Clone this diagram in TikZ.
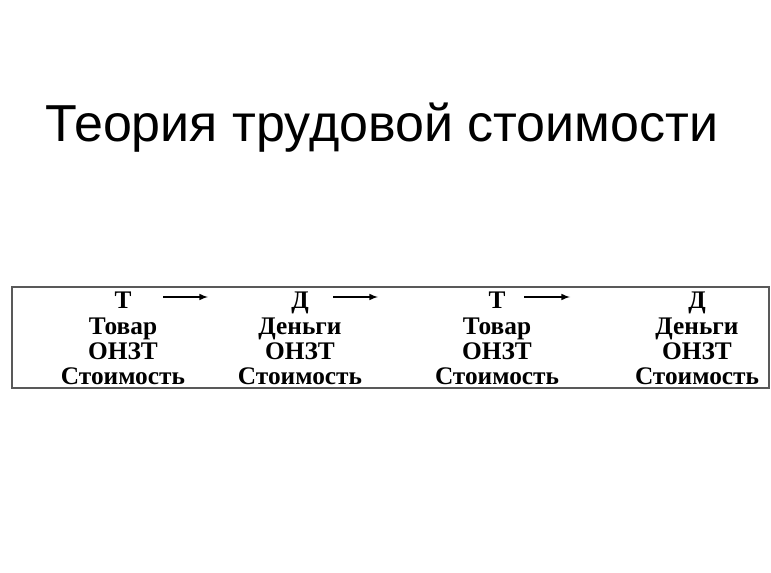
\documentclass[tikz,border=0pt]{standalone}
\usepackage{fontspec}
\setmainfont{Liberation Serif}
\newfontfamily\titlefont{Liberation Sans}
\begin{document}
\begin{tikzpicture}[x=0.75pt,y=-0.75pt,
  cell/.style={font=\fontsize{19}{21}\selectfont\bfseries, inner sep=0pt, anchor=base},
  arr/.style={-latex, line width=1.2pt}]
\useasboundingbox (0,0) rectangle (771,573);
\node[font=\titlefont\fontsize{39}{44}\selectfont, anchor=base west, inner sep=0pt] (title) at (45,142) {Теория трудовой стоимости};
\draw[line width=1pt, gray!70!black] (12,287) rectangle (769,388);
\foreach \x/\a/\b [count=\i] in {123/Т/Товар,300/Д/Деньги,497/Т/Товар,697/Д/Деньги}{
  \node[cell] (h\i) at (\x,309) {\a};
  \node[cell] (n\i) at (\x,335) {\b};
  \node[cell] (o\i) at (\x,360) {ОНЗТ};
  \node[cell] (s\i) at (\x,385) {Стоимость};
}
\coordinate (a1s) at (163,297); \coordinate (a1e) at (208,297);
\coordinate (a2s) at (333,297); \coordinate (a2e) at (378,297);
\coordinate (a3s) at (524,297); \coordinate (a3e) at (570,297);
\draw[arr] (a1s) -- (a1e);
\draw[arr] (a2s) -- (a2e);
\draw[arr] (a3s) -- (a3e);
\end{tikzpicture}
\end{document}
